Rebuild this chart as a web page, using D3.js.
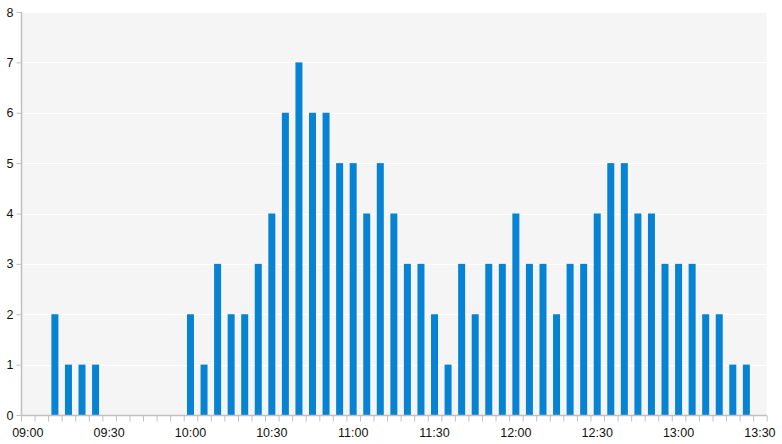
<!DOCTYPE html>
<html><head><meta charset="utf-8">
<script src="https://cdn.jsdelivr.net/npm/d3@7"></script>
<style>body{margin:0;background:#fff}svg{display:block}text{font-family:"Liberation Sans","DejaVu Sans",sans-serif}</style>
</head><body><svg id="c" width="782" height="444"></svg>
<script>
const startTimes = ["09:10","09:15","09:20","09:25",
"10:00","10:05","10:10","10:15","10:20","10:25","10:30","10:35","10:40","10:45","10:50","10:55",
"11:00","11:05","11:10","11:15","11:20","11:25","11:30","11:35","11:40","11:45","11:50","11:55",
"12:00","12:05","12:10","12:15","12:20","12:25","12:30","12:35","12:40","12:45","12:50","12:55",
"13:00","13:05","13:10","13:15","13:20","13:25"];
const counts = [2,1,1,1,
2,1,3,2,2,3,4,6,7,6,6,5,
5,4,5,4,3,3,2,1,3,2,3,3,
4,3,3,2,3,3,4,5,5,4,4,3,
3,3,2,2,1,1];
const xTickLabels = ["09:00","09:30","10:00","10:30","11:00","11:30","12:00","12:30","13:00","13:30"];
const yTicks = [0,1,2,3,4,5,6,7,8];

(function(){
const parse = d3.timeParse("%H:%M");
const svg = d3.select("#c");
const mL = 21, mR = 766.7, mT = 12, mB = 415;
const x = d3.scaleTime().domain([parse("09:00"), parse("13:35")]).range([mL, mR]);
const y = d3.scaleLinear().domain([0, 8]).range([mB, mT]);

svg.append("rect").attr("x", mL).attr("y", mT).attr("width", mR - mL).attr("height", mB - mT).attr("fill", "#f5f5f5");

svg.append("g").selectAll("line").data(yTicks.slice(1)).join("line")
  .attr("x1", mL).attr("x2", mR).attr("y1", d => Math.round(y(d)) + 0.5).attr("y2", d => Math.round(y(d)) + 0.5)
  .attr("stroke", "#ffffff").attr("stroke-width", 1);

const step = x(parse("09:05")) - x(parse("09:00"));
const bw = 7;
svg.append("g").selectAll("rect").data(startTimes.map((t, i) => ({t: parse(t), v: counts[i]}))).join("rect")
  .attr("x", d => x(d.t) + step / 2 - bw / 2)
  .attr("y", d => y(d.v))
  .attr("width", bw)
  .attr("height", d => mB - y(d.v))
  .attr("fill", "#0783d3");

const ya = svg.append("g").attr("transform", `translate(${mL + 0.5},0)`)
  .call(d3.axisLeft(y).tickValues(yTicks).tickSize(5).tickPadding(3).tickFormat(d3.format("d")));
ya.select(".domain").attr("stroke", "#c0c0c0").attr("stroke-width", 1.5).attr("d", `M0,${mT}V${mB}`);
ya.selectAll(".tick line").attr("stroke", "#c0c0c0");
ya.selectAll(".tick text").attr("font-size", 12.5).attr("fill", "#111");

const tickTimes = d3.timeMinute.every(5).range(parse("09:00"), d3.timeMinute.offset(parse("13:35"), 1));
const xa = svg.append("g").attr("transform", `translate(0,${mB + 0.5})`)
  .call(d3.axisBottom(x).tickValues(tickTimes).tickSize(6).tickFormat(""));
xa.select(".domain").attr("stroke", "#c0c0c0").attr("stroke-width", 1.5).attr("d", `M${mL},0H${mR}`);
xa.selectAll(".tick line").attr("stroke", "#c0c0c0");

svg.append("g").selectAll("text").data(xTickLabels).join("text")
  .attr("x", d => x(parse(d)) + step / 2)
  .attr("y", 437)
  .attr("text-anchor", "middle")
  .attr("font-size", 12.5).attr("fill", "#111")
  .text(d => d);
})();
</script></body></html>
